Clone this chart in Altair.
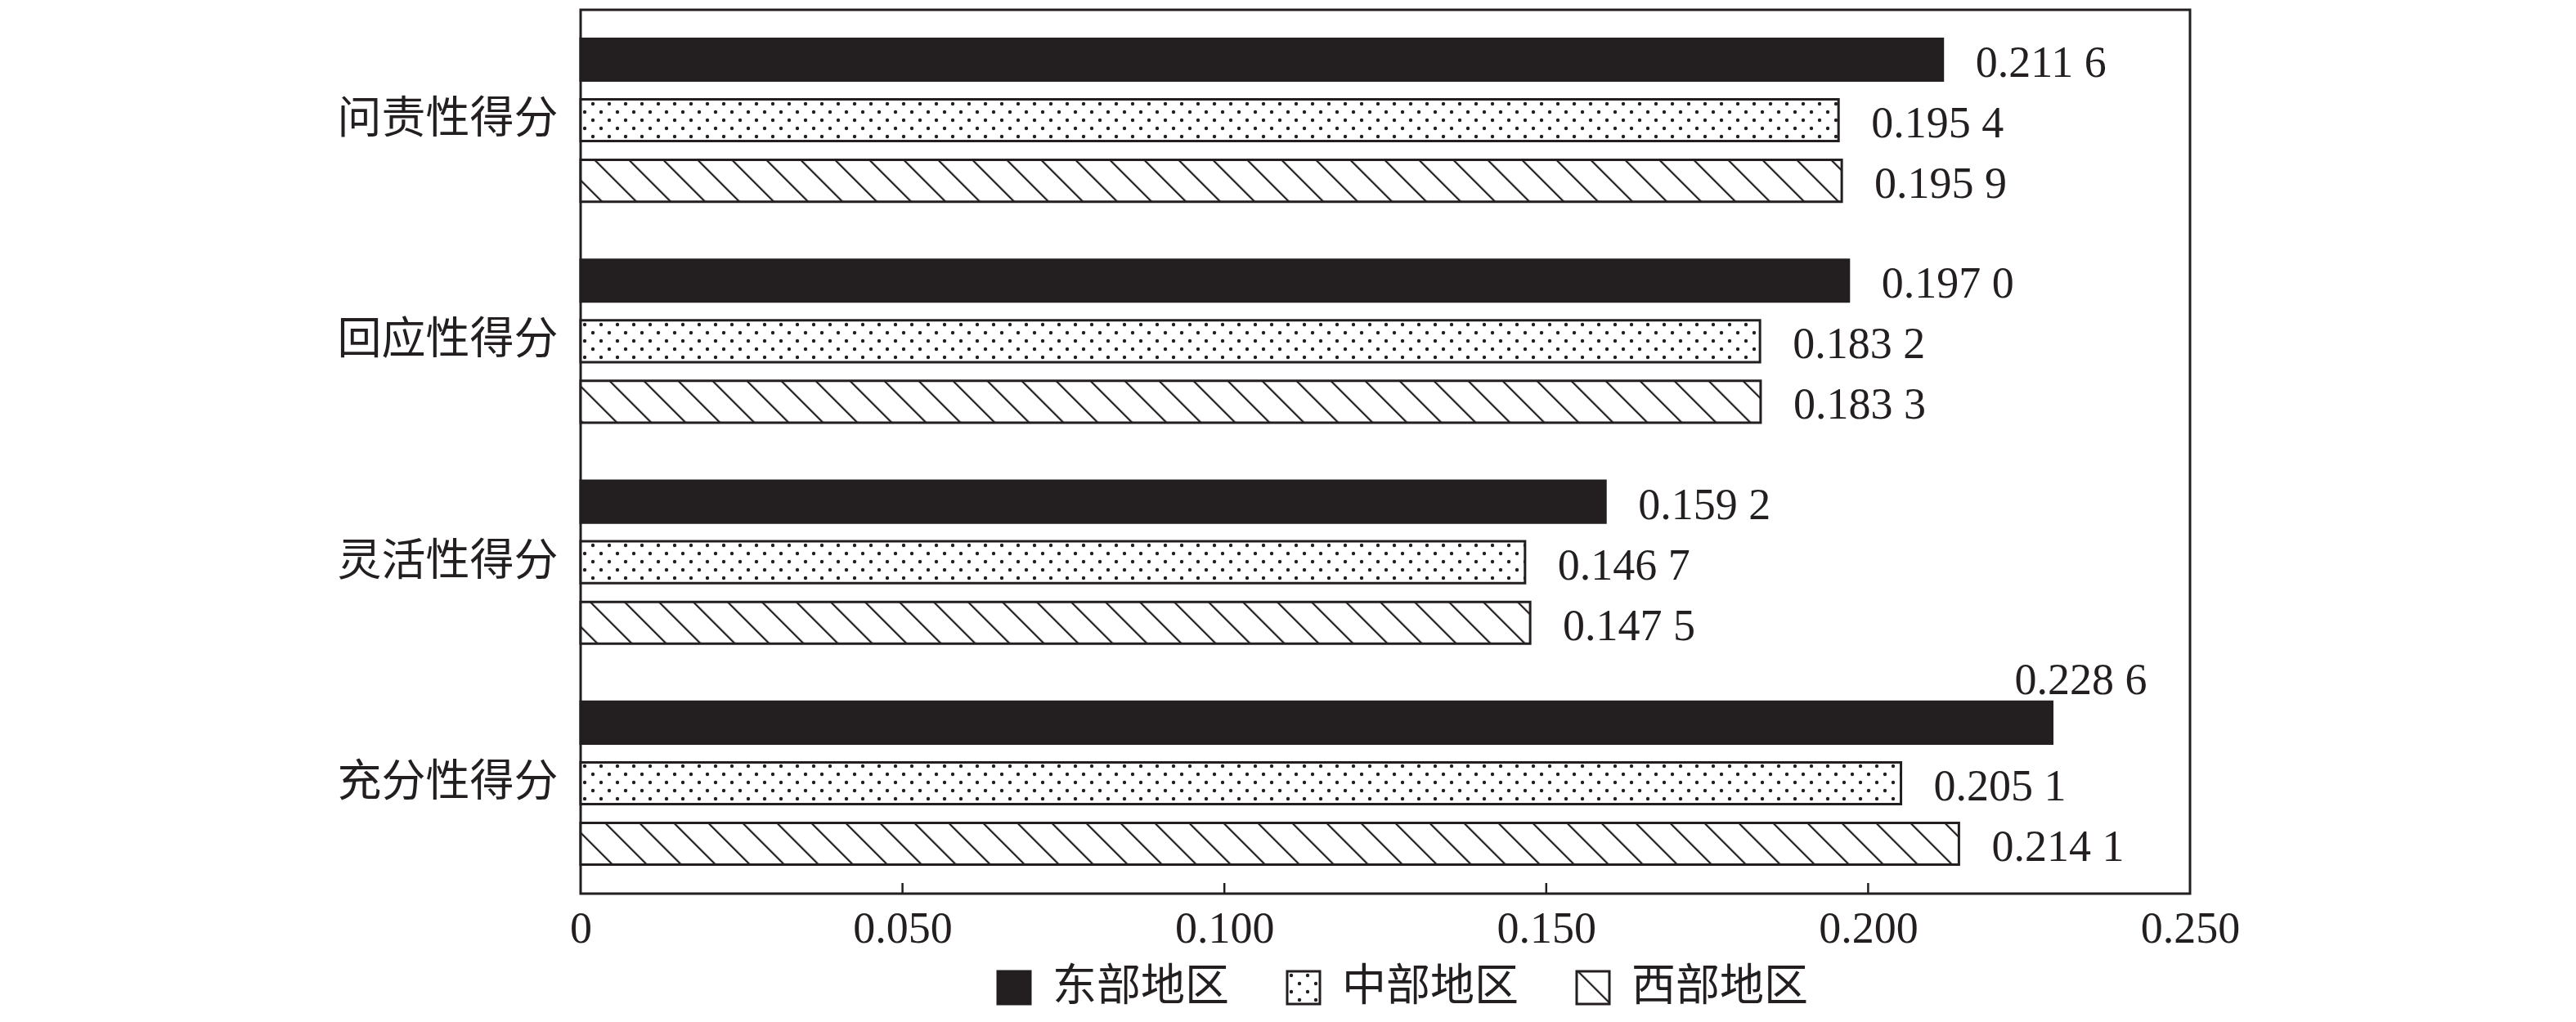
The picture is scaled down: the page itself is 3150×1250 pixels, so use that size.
import altair as alt
import pandas as pd
import jinja2

# ---------------- data ----------------
categories = ["问责性得分", "回应性得分", "灵活性得分", "充分性得分"]
regions = ["东部地区", "中部地区", "西部地区"]
east = [0.2116, 0.1970, 0.1592, 0.2286]
central = [0.1954, 0.1832, 0.1467, 0.2051]
west = [0.1959, 0.1833, 0.1475, 0.2141]
label_above = [("充分性得分", "东部地区")]
x_ticks = [0, 0.05, 0.10, 0.15, 0.20, 0.25]
inner_ticks = [0.05, 0.10, 0.15, 0.20]

INK = "#231f20"
FONT = "Liberation Serif, Noto Sans CJK SC"
fills = [INK, "url(#dots)", "url(#hatch)"]

rows = []
for i, c in enumerate(categories):
    for r, series in zip(regions, [east, central, west]):
        v = series[i]
        s = f"{v:.4f}"
        rows.append({
            "cat": c, "region": r, "value": v,
            "label": s[:5] + " " + s[5:],
            "pos": "above" if (c, r) in label_above else "right",
        })
df = pd.DataFrame(rows)
tick_df = pd.DataFrame({"value": inner_ticks})

# ---------------- encodings ----------------
x_enc = alt.X(
    "value:Q",
    scale=alt.Scale(domain=[0, 0.25], nice=False, zero=True),
    axis=alt.Axis(
        values=x_ticks,
        labelExpr="datum.value == 0 ? '0' : format(datum.value, '.3f')",
        ticks=False, domain=False, grid=False, title=None,
        labelFont=FONT, labelFontSize=54, labelColor=INK, labelPadding=16,
        labelFlush=False,
    ),
)
y_enc = alt.Y(
    "cat:N", sort=categories, title=None,
    scale=alt.Scale(paddingInner=0.263, paddingOuter=0.131),
    axis=alt.Axis(
        labelFont=FONT, labelFontSize=54, labelColor=INK, ticks=False,
        domain=False, labelPadding=28, labelLimit=0,
    ),
)
yoff_enc = alt.YOffset(
    "region:N", sort=regions,
    scale=alt.Scale(paddingInner=0.31, paddingOuter=0),
)

bars = alt.Chart(df).mark_bar(stroke=INK, strokeWidth=3).encode(
    x=x_enc, y=y_enc, yOffset=yoff_enc,
    fill=alt.Fill(
        "region:N", sort=regions,
        scale=alt.Scale(domain=regions, range=fills),
        legend=alt.Legend(
            title=None, orient="none", legendX=503, legendY=1169,
            direction="horizontal", symbolType="square", symbolSize=1600,
            symbolStrokeColor=INK, symbolStrokeWidth=3,
            labelFont=FONT, labelFontSize=54, labelColor=INK,
            labelOffset=20, columnPadding=64, padding=0, labelLimit=0,
        ),
    ),
)

labels_right = alt.Chart(df).transform_filter("datum.pos == 'right'").mark_text(
    align="left", baseline="middle", dx=40, dy=5,
    font=FONT, fontSize=54, color=INK,
).encode(x=x_enc, y=y_enc, yOffset=yoff_enc, text="label:N")

labels_above = alt.Chart(df).transform_filter("datum.pos == 'above'").mark_text(
    align="center", baseline="middle", dx=35, dy=-51,
    font=FONT, fontSize=54, color=INK,
).encode(x=x_enc, y=y_enc, yOffset=yoff_enc, text="label:N")

ticks = alt.Chart(tick_df).mark_rule(color=INK, strokeWidth=2.5).encode(
    x=x_enc, y=alt.value(1068), y2=alt.value(1081),
)

chart = alt.layer(bars, labels_right, labels_above, ticks).properties(
    width=1968, height=1081,
    padding={"left": 702, "top": 4, "right": 464, "bottom": 149},
    autosize=alt.AutoSizeParams(type="none"),
).configure(background="white").configure_view(stroke=INK, strokeWidth=3)

TEMPLATE = jinja2.Template("""<!DOCTYPE html>
<html>
<head>
  <meta charset="utf-8">
  <style>
    #{{ output_div }}.vega-embed { width: 100%; display: flex; }
  </style>
  <script type="text/javascript" src="{{ base_url }}/vega@{{ vega_version }}"></script>
  <script type="text/javascript" src="{{ base_url }}/vega-lite@{{ vegalite_version }}"></script>
  <script type="text/javascript" src="{{ base_url }}/vega-embed@{{ vegaembed_version }}"></script>
</head>
<body>
  <svg width="0" height="0" style="position:absolute; left:0; top:0" aria-hidden="true">
    <defs>
      <pattern id="dots" patternUnits="userSpaceOnUse" width="20" height="20">
        <rect x="0" y="0" width="20" height="20" fill="white"></rect>
        <circle cx="5" cy="5" r="2.2" fill="#231f20"></circle>
        <circle cx="15" cy="15" r="2.2" fill="#231f20"></circle>
      </pattern>
      <pattern id="hatch" patternUnits="userSpaceOnUse" width="29.7" height="29.7" patternTransform="rotate(-45)">
        <rect x="0" y="0" width="29.7" height="29.7" fill="white"></rect>
        <rect x="0" y="0" width="2.2" height="29.7" fill="#231f20"></rect>
      </pattern>
    </defs>
  </svg>
  <div id="{{ output_div }}"></div>
  <script type="text/javascript">
    (function(vegaEmbed) {
      var spec = {{ spec }};
      var embedOpt = {{ embed_options }};
      var el = document.getElementById('{{ output_div }}');
      vegaEmbed(el, spec, embedOpt).catch(function(error) {
        el.innerHTML = '<div style="color:red;"><p>JavaScript Error: ' + error.message + '</p></div>';
      });
    })(vegaEmbed);
  </script>
</body>
</html>
""")

chart.save("out.html", embed_options={"renderer": "svg", "actions": False}, template=TEMPLATE)
